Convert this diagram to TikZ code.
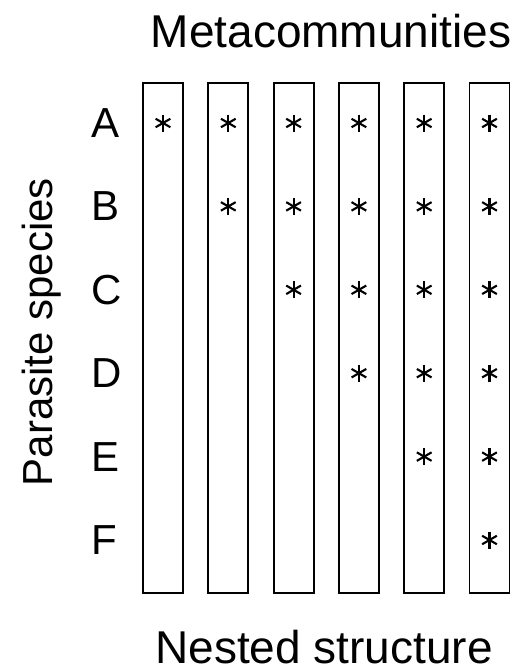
\documentclass[tikz,border=0pt]{standalone}
\usepackage{fontspec}
\setmainfont{Liberation Sans}
\usetikzlibrary{positioning}

\begin{document}
\begin{tikzpicture}[
        x=1pt, y=-1pt,
        % Colonne delle metacomunita
        colonna/.style={draw, rectangle, line width=1.8pt, minimum width=40pt, minimum height=510pt, inner sep=0pt, outer sep=0pt},
        % Lettere delle specie
        specie/.style={font=\fontsize{42}{42}\selectfont, anchor=west, inner sep=0pt},
        % Asterisco (presenza della specie)
        presenza/.style={minimum size=20pt, inner sep=0pt, path picture={
            \foreach \a in {90,30,150}
                \draw[line width=2.1pt, shift={(path picture bounding box.center)}] (\a:8.5pt) -- (\a+180:8.5pt);
        }},
        titolo/.style={font=\fontsize{46}{46}\selectfont, inner sep=0pt}
    ]
        \useasboundingbox (0,0) rectangle (515,672);

        % Colonne
        \node[colonna] (m1) at (163,338) {};
        \foreach \c [remember=\c as \p (initially 1)] in {2,...,6}
            \node[colonna, right=25.3pt of m\p] (m\c) {};

        % Specie
        \foreach \s [count=\i] in {A,B,C,D,E,F}
            \node[specie] (\s) at (91,{123+83.4*(\i-1)}) {\s};

        % Struttura annidata: la colonna c ha le prime c specie
        \foreach \c in {1,...,6}
            \foreach \s [count=\r] in {A,B,C,D,E,F} {
                \ifnum\r>\c\else
                    \node[presenza] (p\c\s) at (m\c |- \s) {};
                \fi
            }

        % Testi
        \node[titolo, anchor=base] (meta) at (331,47) {Metacommunities};
        \node[titolo, anchor=base] (nested) at (324,663) {Nested structure};
        \node[titolo, anchor=base, rotate=90, font=\fontsize{42}{42}\selectfont] (parass) at (52,332) {Parasite species};
    \end{tikzpicture}
\end{document}
